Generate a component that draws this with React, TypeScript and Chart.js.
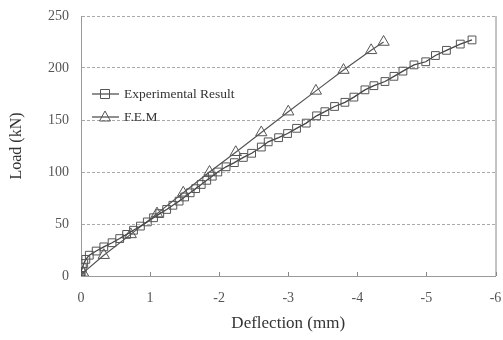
import React, { useEffect, useRef } from "react";
import { Chart, registerables } from "chart.js";

Chart.register(...registerables);

const expX = [0, 0.0, 0.02, 0.04, 0.07, 0.12, 0.22, 0.33, 0.45, 0.56, 0.66, 0.76, 0.86, 0.96, 1.05, 1.14, 1.24, 1.33, 1.42, 1.5, 1.58, 1.66, 1.74, 1.82, 1.9, 1.98, 2.1, 2.22, 2.35, 2.47, 2.61, 2.71, 2.86, 2.99, 3.12, 3.26, 3.41, 3.53, 3.67, 3.82, 3.95, 4.11, 4.24, 4.4, 4.53, 4.66, 4.82, 4.99, 5.13, 5.29, 5.49, 5.66];
const expY = [0, 4, 8, 12, 16, 20, 24, 28, 32, 36, 40, 44, 48, 52, 56, 60, 64, 68, 72, 76, 80, 84, 88, 92, 96, 100, 105, 109, 114, 118, 124, 129, 133, 137, 142, 147, 154, 158, 163, 167, 172, 179, 183, 187, 192, 197, 203, 206, 212, 217, 223, 227];
const femX = [0, 0.03, 0.33, 0.72, 1.1, 1.48, 1.86, 2.24, 2.61, 3.0, 3.4, 3.8, 4.2, 4.38];
const femY = [0, 3, 20, 40, 60, 80, 100, 119, 138, 158, 178, 198, 217, 225];
const xTickLabels = ["0", "1", "-2", "-3", "-4", "-5", "-6"];
const seriesNames = ["Experimental Result", "F.E.M"];

const FONT = "'Liberation Serif', 'DejaVu Serif', serif";

export default function App() {
  const ref = useRef<HTMLCanvasElement | null>(null);
  useEffect(() => {
    document.body.style.margin = "0";
    const extras = {
      id: "extras",
      afterDraw(chart: any) {
        const { ctx, chartArea } = chart;
        const xs = chart.scales.x;
        ctx.save();
        ctx.strokeStyle = "#888";
        ctx.lineWidth = 1;
        ctx.beginPath();
        ctx.moveTo(chartArea.right + 0.5, chartArea.top);
        ctx.lineTo(chartArea.right + 0.5, chartArea.bottom);
        ctx.stroke();
        for (let i = 1; i <= 6; i++) {
          const px = Math.round(xs.getPixelForValue(i)) + 0.5;
          ctx.beginPath();
          ctx.moveTo(px, chartArea.bottom);
          ctx.lineTo(px, chartArea.bottom - 4);
          ctx.stroke();
        }
        // legend
        const rows = [
          { y: 94, style: "rect", name: seriesNames[0] },
          { y: 117, style: "triangle", name: seriesNames[1] },
        ];
        ctx.font = "13.5px " + FONT;
        ctx.textBaseline = "middle";
        ctx.fillStyle = "#333";
        for (const r of rows) {
          ctx.strokeStyle = "#444";
          ctx.lineWidth = 1.2;
          ctx.beginPath();
          ctx.moveTo(92, r.y);
          ctx.lineTo(119, r.y);
          ctx.stroke();
          ctx.strokeStyle = "#555";
          ctx.lineWidth = 1;
          ctx.beginPath();
          if (r.style === "rect") {
            ctx.rect(100.5, r.y - 4.5, 9, 9);
          } else {
            ctx.moveTo(105, r.y - 6);
            ctx.lineTo(110.5, r.y + 4);
            ctx.lineTo(99.5, r.y + 4);
            ctx.closePath();
          }
          ctx.stroke();
          ctx.fillText(r.name, 124, r.y);
        }
        ctx.restore();
      },
    };
    const chart = new Chart(ref.current as HTMLCanvasElement, {
      type: "scatter",
      data: {
        datasets: [
          {
            label: seriesNames[0],
            data: expX.map((x, i) => ({ x, y: expY[i] })),
            showLine: true,
            borderColor: "#444",
            borderWidth: 1.3,
            pointStyle: "rect",
            pointRadius: 5.5,
            pointBorderColor: "#555",
            pointBorderWidth: 1,
            pointBackgroundColor: "rgba(0,0,0,0)",
          },
          {
            label: seriesNames[1],
            data: femX.map((x, i) => ({ x, y: femY[i] })),
            showLine: true,
            borderColor: "#555",
            borderWidth: 1.2,
            pointStyle: "triangle",
            pointRadius: 6.5,
            pointBorderColor: "#555",
            pointBorderWidth: 1,
            pointBackgroundColor: "rgba(0,0,0,0)",
          },
        ],
      },
      options: {
        animation: false,
        responsive: false,
        layout: { padding: { top: 16, right: 5, left: 0, bottom: 0 } },
        plugins: { legend: { display: false }, tooltip: { enabled: false } },
        scales: {
          x: {
            type: "linear",
            min: 0,
            max: 6,
            afterFit(s: any) { s.height = 64; s.paddingRight = 0; s.paddingLeft = 0; },
            ticks: {
              stepSize: 1,
              padding: 14,
              color: "#555",
              font: { family: FONT, size: 14 },
              callback: (v: any) => xTickLabels[Math.round(Number(v))] ?? "",
            },
            grid: { display: false, drawTicks: false },
            border: { display: true, color: "#999", dash: [3, 2] },
            title: {
              display: true,
              text: "Deflection (mm)",
              color: "#333",
              font: { family: FONT, size: 17 },
              padding: { top: 0, bottom: 6 },
            },
          },
          y: {
            min: 0,
            max: 250,
            afterFit(s: any) { s.width = 81; s.paddingTop = 0; s.paddingBottom = 0; },
            ticks: {
              stepSize: 50,
              padding: 12,
              color: "#555",
              font: { family: FONT, size: 14 },
            },
            grid: { color: "#aaa", drawTicks: false },
            border: { display: true, color: "#999", dash: [3, 2] },
            title: {
              display: true,
              text: "Load (kN)",
              color: "#333",
              font: { family: FONT, size: 16 },
              padding: { top: 7, bottom: 0 },
            },
          },
        },
      },
      plugins: [extras],
    } as any);
    return () => chart.destroy();
  }, []);
  return (
    <div style={{ position: "absolute", left: 0, top: 0, width: 503, height: 340 }}>
      <canvas ref={ref} width={503} height={340} />
    </div>
  );
}
